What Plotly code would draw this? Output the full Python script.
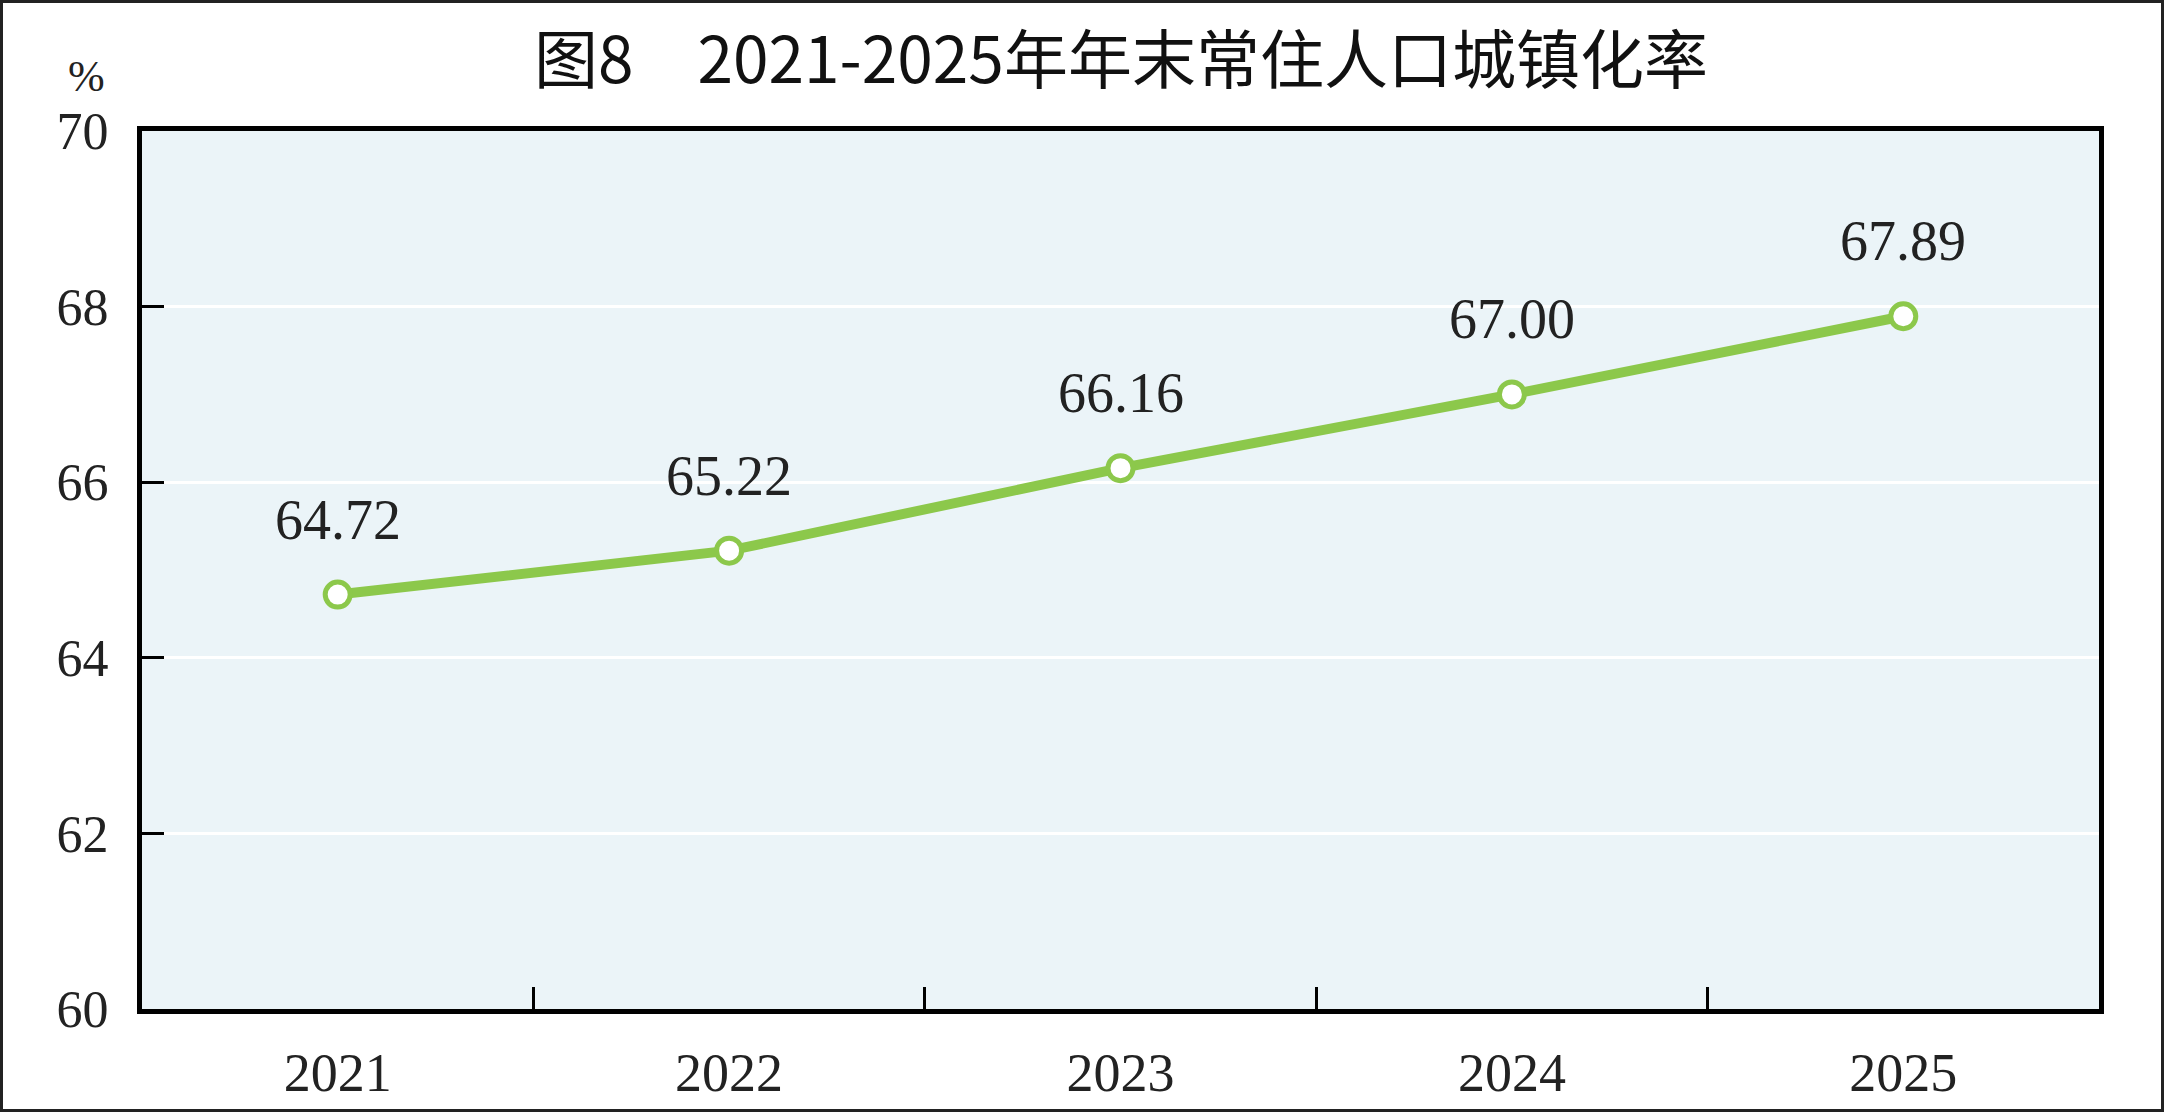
import plotly.graph_objects as go

years = ["2021", "2022", "2023", "2024", "2025"]
rates = [64.72, 65.22, 66.16, 67.00, 67.89]
value_labels = ["64.72", "65.22", "66.16", "67.00", "67.89"]
y_ticks = [60, 62, 64, 66, 68, 70]
title_text = "图8\u30002021-2025年年末常住人口城镇化率"
unit_text = "%"

W, H = 2164, 1112
ML, MR, MT, MB = 142, 65, 131, 103
PW, PH = W - ML - MR, H - MT - MB

GREEN = "#8CC84B"
SERIF = "Liberation Serif, Times New Roman, serif"

fig = go.Figure()
fig.add_trace(go.Scatter(
    x=years, y=rates, mode="lines+markers",
    line=dict(color=GREEN, width=10),
    marker=dict(size=25, color="white", line=dict(color=GREEN, width=5)),
    hoverinfo="skip", showlegend=False,
))

for i, (yv, t) in enumerate(zip(rates, value_labels)):
    fig.add_annotation(x=i, y=yv, text=t, showarrow=False, yshift=75,
                       xanchor="center", yanchor="middle",
                       font=dict(family=SERIF, size=56, color="#222222"))

fig.add_annotation(xref="paper", yref="paper",
                   x=(86 - ML) / PW, y=(H - MB - 77) / PH,
                   text=unit_text, showarrow=False,
                   xanchor="center", yanchor="middle",
                   font=dict(family=SERIF, size=44, color="#222222"))

fig.add_annotation(xref="paper", yref="paper",
                   x=0.5, y=(H - MB - 55) / PH,
                   text=title_text, showarrow=False,
                   xanchor="center", yanchor="middle",
                   font=dict(family="Noto Sans CJK SC", size=64, color="#111111"))

# outer border of the picture
fig.add_shape(type="rect", xref="paper", yref="paper",
              x0=(1.5 - ML) / PW, x1=(W - 1.5 - ML) / PW,
              y0=(H - MB - (H - 1.5)) / PH, y1=(H - MB - 1.5) / PH,
              line=dict(color="#222222", width=3), fillcolor="rgba(0,0,0,0)",
              layer="above")

fig.update_layout(
    width=W, height=H,
    margin=dict(l=ML, r=MR, t=MT, b=MB, autoexpand=False),
    paper_bgcolor="white",
    plot_bgcolor="#EBF4F8",
    font=dict(family=SERIF, color="#222222"),
)
fig.update_xaxes(
    type="category", range=[-0.5, 4.5],
    showline=True, mirror=True, linecolor="black", linewidth=5,
    ticks="inside", tickson="boundaries", ticklen=22, tickwidth=3, tickcolor="black",
    showgrid=False, zeroline=False,
    tickfont=dict(family=SERIF, size=54, color="#222222"),
    ticklabelstandoff=12,
)
fig.update_yaxes(
    range=[60, 70], tickvals=y_ticks, ticktext=[str(v) for v in y_ticks],
    showline=True, mirror=True, linecolor="black", linewidth=5,
    ticks="inside", ticklen=22, tickwidth=3, tickcolor="black",
    showgrid=True, gridcolor="white", gridwidth=3, zeroline=False,
    tickfont=dict(family=SERIF, size=52, color="#222222"),
    ticklabelstandoff=18,
)

fig.write_html("out.html",
               config={"displayModeBar": False},
               post_script="document.body.style.margin='0';document.body.style.overflow='hidden';")
